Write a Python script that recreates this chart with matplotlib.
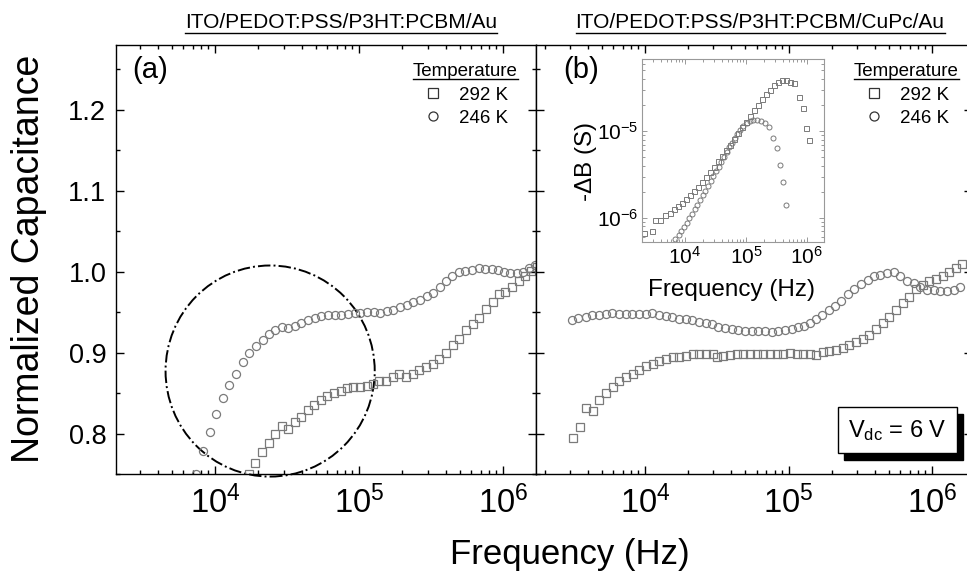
import numpy as np
import matplotlib
matplotlib.use("Agg")
import matplotlib.pyplot as plt
from matplotlib.ticker import MultipleLocator, LogLocator, NullFormatter, FormatStrFormatter
from matplotlib.patches import Ellipse, Rectangle
from matplotlib.lines import Line2D

plt.rcParams['font.family'] = ['Liberation Sans', 'DejaVu Sans']
plt.rcParams['mathtext.fontset'] = 'custom'
plt.rcParams['mathtext.rm'] = 'Liberation Sans'
plt.rcParams['mathtext.it'] = 'Liberation Sans'

# ---------------- data (log10 of frequency in Hz, normalized capacitance) ----------------
a_246_logf = [3.868, 3.919, 3.965, 4.007, 4.053, 4.100, 4.146, 4.192, 4.238, 4.285,
              4.331, 4.373, 4.419, 4.465, 4.507, 4.553, 4.600, 4.646, 4.692, 4.738,
              4.785, 4.831, 4.877, 4.924, 4.970, 5.010, 5.058, 5.104, 5.146, 5.192,
              5.238, 5.285, 5.331, 5.377, 5.424, 5.470, 5.516, 5.563, 5.604, 5.646,
              5.692, 5.738, 5.785, 5.831, 5.877, 5.924, 5.965, 6.007, 6.049, 6.095,
              6.141, 6.183, 6.225]
a_246_cap = [0.750, 0.778, 0.802, 0.824, 0.844, 0.860, 0.874, 0.888, 0.900, 0.908,
             0.916, 0.923, 0.928, 0.931, 0.930, 0.933, 0.937, 0.940, 0.943, 0.945,
             0.946, 0.947, 0.947, 0.948, 0.949, 0.949, 0.950, 0.950, 0.949, 0.951,
             0.953, 0.956, 0.959, 0.962, 0.965, 0.970, 0.974, 0.981, 0.989, 0.995,
             0.999, 1.001, 1.002, 1.004, 1.003, 1.003, 1.002, 0.999, 0.998, 0.998,
             1.000, 1.005, 1.008]

a_292_logf = [4.238, 4.280, 4.326, 4.373, 4.419, 4.465, 4.507, 4.553, 4.600, 4.646,
              4.688, 4.734, 4.780, 4.826, 4.873, 4.915, 4.960, 5.007, 5.053, 5.100,
              5.141, 5.188, 5.234, 5.280, 5.326, 5.373, 5.419, 5.465, 5.512, 5.558,
              5.604, 5.651, 5.697, 5.743, 5.790, 5.836, 5.882, 5.928, 5.970, 6.016,
              6.062, 6.109, 6.155, 6.197, 6.236]
a_292_cap = [0.750, 0.764, 0.777, 0.788, 0.799, 0.809, 0.805, 0.814, 0.821, 0.829,
             0.835, 0.841, 0.846, 0.850, 0.853, 0.856, 0.857, 0.858, 0.859, 0.861,
             0.865, 0.865, 0.870, 0.873, 0.870, 0.874, 0.878, 0.882, 0.886, 0.892,
             0.900, 0.909, 0.917, 0.928, 0.935, 0.943, 0.954, 0.963, 0.972, 0.975,
             0.981, 0.988, 0.995, 1.001, 1.006]

b_246_logf = [3.493, 3.535, 3.587, 3.633, 3.680, 3.726, 3.772, 3.819, 3.866, 3.912,
              3.958, 4.005, 4.051, 4.098, 4.144, 4.190, 4.237, 4.284, 4.330, 4.376,
              4.423, 4.469, 4.511, 4.557, 4.604, 4.650, 4.697, 4.744, 4.790, 4.836,
              4.883, 4.929, 4.976, 5.022, 5.064, 5.106, 5.148, 5.190, 5.236, 5.282,
              5.324, 5.366, 5.412, 5.458, 5.505, 5.551, 5.593, 5.640, 5.686, 5.733,
              5.779, 5.826, 5.872, 5.918, 5.965, 6.011, 6.058, 6.105, 6.151, 6.197]
b_246_cap = [0.940, 0.943, 0.944, 0.947, 0.946, 0.948, 0.949, 0.948, 0.948, 0.948,
             0.948, 0.948, 0.949, 0.946, 0.945, 0.944, 0.942, 0.941, 0.940, 0.938,
             0.937, 0.935, 0.931, 0.930, 0.929, 0.928, 0.927, 0.927, 0.927, 0.927,
             0.926, 0.927, 0.928, 0.929, 0.931, 0.933, 0.936, 0.941, 0.946, 0.953,
             0.958, 0.964, 0.972, 0.979, 0.985, 0.990, 0.994, 0.996, 0.998, 0.999,
             0.994, 0.989, 0.986, 0.981, 0.977, 0.977, 0.976, 0.976, 0.977, 0.981]

b_292_logf = [3.500, 3.547, 3.587, 3.636, 3.682, 3.728, 3.775, 3.821, 3.868, 3.914,
              3.960, 4.007, 4.053, 4.100, 4.146, 4.193, 4.239, 4.286, 4.332, 4.379,
              4.425, 4.472, 4.500, 4.545, 4.592, 4.639, 4.685, 4.732, 4.778, 4.824,
              4.871, 4.917, 4.964, 5.010, 5.057, 5.103, 5.150, 5.192, 5.238, 5.285,
              5.331, 5.378, 5.424, 5.470, 5.517, 5.563, 5.610, 5.656, 5.702, 5.749,
              5.795, 5.842, 5.888, 5.934, 5.981, 6.028, 6.074, 6.120, 6.167, 6.209]
b_292_cap = [0.794, 0.808, 0.832, 0.828, 0.841, 0.850, 0.858, 0.865, 0.870, 0.874,
             0.879, 0.883, 0.886, 0.889, 0.892, 0.894, 0.895, 0.896, 0.898, 0.898,
             0.898, 0.898, 0.894, 0.896, 0.897, 0.898, 0.898, 0.898, 0.898, 0.898,
             0.898, 0.898, 0.898, 0.899, 0.898, 0.898, 0.898, 0.897, 0.901, 0.902,
             0.903, 0.906, 0.909, 0.913, 0.917, 0.922, 0.929, 0.936, 0.944, 0.953,
             0.961, 0.969, 0.979, 0.984, 0.988, 0.991, 0.995, 0.999, 1.005, 1.009]

# inset: log10 frequency, log10(-dB in S)
in_292_logf = [3.333, 3.459, 3.513, 3.590, 3.677, 3.754, 3.820, 3.885, 3.951, 4.016,
               4.082, 4.148, 4.213, 4.279, 4.344, 4.410, 4.475, 4.541, 4.607, 4.672,
               4.738, 4.803, 4.869, 4.934, 5.000, 5.066, 5.131, 5.197, 5.262, 5.328,
               5.393, 5.459, 5.525, 5.590, 5.656, 5.721, 5.787, 5.874, 5.929, 5.984, 6.027]
in_292_logb = [-6.176, -6.146, -6.023, -6.023, -5.966, -5.939, -5.900, -5.862, -5.824, -5.785,
               -5.736, -5.686, -5.640, -5.582, -5.525, -5.468, -5.410, -5.341, -5.287, -5.218,
               -5.161, -5.096, -5.027, -4.957, -4.893, -4.828, -4.759, -4.701, -4.636, -4.575,
               -4.521, -4.471, -4.433, -4.406, -4.414, -4.433, -4.445, -4.606, -4.739, -4.969, -5.103]
in_246_logf = [3.840, 3.896, 3.940, 3.984, 4.027, 4.071, 4.115, 4.159, 4.202, 4.246,
               4.290, 4.333, 4.377, 4.421, 4.464, 4.508, 4.552, 4.596, 4.639, 4.683,
               4.727, 4.770, 4.814, 4.858, 4.902, 4.956, 5.011, 5.066, 5.120, 5.175,
               5.240, 5.306, 5.372, 5.448, 5.514, 5.557, 5.601, 5.656]
in_246_logb = [-6.245, -6.195, -6.146, -6.100, -6.054, -6.003, -5.954, -5.900, -5.851, -5.793,
               -5.736, -5.686, -5.632, -5.571, -5.517, -5.460, -5.410, -5.353, -5.295, -5.241,
               -5.188, -5.134, -5.084, -5.034, -4.989, -4.943, -4.905, -4.882, -4.874, -4.874,
               -4.889, -4.912, -4.957, -5.084, -5.199, -5.391, -5.583, -5.851]

titles = ["ITO/PEDOT:PSS/P3HT:PCBM/Au", "ITO/PEDOT:PSS/P3HT:PCBM/CuPc/Au"]
temps = ["292 K", "246 K"]

# ---------------- layout ----------------
W, H = 967, 573
fig = plt.figure(figsize=(W / 100, H / 100), dpi=100)

def rect(x0, y0, x1, y1):
    return [x0 / W, 1 - y1 / H, (x1 - x0) / W, (y1 - y0) / H]

def fx(x):
    return x / W

def fy(y):
    return 1 - y / H

axa = fig.add_axes(rect(116, 45, 536, 474))
axb = fig.add_axes(rect(536, 45, 972, 474))

gray = '#7a7a7a'
mk = dict(ls='none', mfc='none', mec=gray, mew=0.9, ms=5.8)

def style(ax, labelleft=True):
    ax.set_xscale('log')
    ax.set_ylim(0.75, 1.28)
    ax.yaxis.set_major_locator(MultipleLocator(0.1))
    ax.yaxis.set_minor_locator(MultipleLocator(0.05))
    ax.yaxis.set_major_formatter(FormatStrFormatter('%.1f'))
    ax.xaxis.set_major_locator(LogLocator(base=10, numticks=10))
    ax.xaxis.set_minor_locator(LogLocator(base=10, subs=np.arange(2, 10), numticks=20))
    ax.xaxis.set_minor_formatter(NullFormatter())
    ax.tick_params(which='both', direction='in', top=True, right=True, width=1.0)
    ax.tick_params(axis='y', which='major', length=5.5, labelsize=19.5, pad=7)
    ax.tick_params(axis='x', which='major', length=5.5, labelsize=23.5, pad=8)
    ax.tick_params(which='minor', length=3)
    ax.tick_params(axis='y', labelleft=labelleft)
    for s in ax.spines.values():
        s.set_linewidth(1.0)

style(axa)
style(axb, labelleft=False)
axa.set_xlim(10 ** 3.3125, 10 ** 6.229)
axb.set_xlim(10 ** 3.24, 10 ** 6.279)

axa.plot(10 ** np.array(a_292_logf), a_292_cap, marker='s', **mk)
axa.plot(10 ** np.array(a_246_logf), a_246_cap, marker='o', **mk)
axb.plot(10 ** np.array(b_292_logf), b_292_cap, marker='s', **mk)
axb.plot(10 ** np.array(b_246_logf), b_246_cap, marker='o', **mk)

# axis labels
fig.text(fx(29), fy(259), "Normalized Capacitance", fontsize=27, rotation=90,
         ha='center', va='center')
fig.text(fx(570), fy(564), "Frequency (Hz)", fontsize=25, ha='center', va='baseline')

# panel letters
fig.text(fx(132), fy(78), "(a)", fontsize=21, va='baseline')
fig.text(fx(563), fy(78), "(b)", fontsize=21, va='baseline')

# dash-dot ellipse
axa.add_patch(Ellipse((0.367, 0.240), 0.498, 0.492, transform=axa.transAxes,
                      fill=False, ec='black', ls='-.', lw=1.4, clip_on=False))

underlines = []

# legends (manual)
def legend(x_title, x_mark, x_text):
    t = fig.text(fx(x_title), fy(76), "Temperature", fontsize=13.5, va='baseline')
    underlines.append((t, 79))
    for yb, m, lab in ((100, 's', temps[0]), (123, 'o', temps[1])):
        fig.lines.append(Line2D([fx(x_mark)], [fy(yb - 7)], marker=m, mfc='none', mec='#333333',
                                mew=0.9, ms=6.5, transform=fig.transFigure, ls='none'))
        fig.text(fx(x_text), fy(yb), lab, fontsize=13.5, va='baseline')

legend(413, 433, 459)
legend(854, 874, 900)

# titles
t1 = fig.text(fx(341), fy(28), titles[0], fontsize=15, ha='center', va='baseline')
t2 = fig.text(fx(760), fy(28), titles[1], fontsize=15, ha='center', va='baseline')
underlines += [(t1, 33), (t2, 33)]

# V_dc box with shadow
fig.patches.append(Rectangle((fx(844), fy(460)), 119 / W, 46 / H, transform=fig.transFigure,
                             fc='black', ec='black', zorder=5))
fig.patches.append(Rectangle((fx(838), fy(453)), 119 / W, 46 / H, transform=fig.transFigure,
                             fc='white', ec='black', lw=1.0, zorder=6))
fig.text(fx(897), fy(437), r"V$_{\mathregular{dc}}$ = 6 V", fontsize=17, ha='center',
         va='baseline', zorder=7)

# inset
axi = fig.add_axes(rect(642, 59, 824, 242))
axi.set_xscale('log')
axi.set_yscale('log')
axi.set_xlim(10 ** 3.295, 10 ** 6.28)
axi.set_ylim(10 ** -6.276, 10 ** -4.17)
mki = dict(ls='none', mfc='none', mec=gray, mew=0.7, ms=3.6)
axi.plot(10 ** np.array(in_292_logf), 10 ** np.array(in_292_logb), marker='s', **mki)
axi.plot(10 ** np.array(in_246_logf), 10 ** np.array(in_246_logb), marker='o', **mki)
axi.xaxis.set_major_locator(LogLocator(base=10, numticks=10))
axi.yaxis.set_major_locator(LogLocator(base=10, numticks=10))
axi.xaxis.set_minor_locator(LogLocator(base=10, subs=np.arange(2, 10), numticks=20))
axi.yaxis.set_minor_locator(LogLocator(base=10, subs=np.arange(2, 10), numticks=20))
axi.xaxis.set_minor_formatter(NullFormatter())
axi.yaxis.set_minor_formatter(NullFormatter())
axi.tick_params(which='both', direction='in', top=True, right=True, colors='#999999',
                labelcolor='black', width=0.7)
axi.tick_params(which='major', length=3.5, labelsize=15, pad=2.5)
axi.tick_params(which='minor', length=2)
for s in axi.spines.values():
    s.set_color('#999999')
    s.set_linewidth(0.8)
fig.text(fx(732), fy(296), "Frequency (Hz)", fontsize=17.5, ha='center', va='baseline')
fig.text(fx(586), fy(162), r"-$\Delta$B (S)", fontsize=17.5, rotation=90, ha='center', va='center')

# underlines
fig.canvas.draw()
r = fig.canvas.get_renderer()
for t, yline in underlines:
    bb = t.get_window_extent(r)
    fig.lines.append(Line2D([bb.x0 / W, bb.x1 / W], [fy(yline), fy(yline)], color='black', lw=1.0,
                            transform=fig.transFigure))

fig.savefig("out.png", dpi=100)
